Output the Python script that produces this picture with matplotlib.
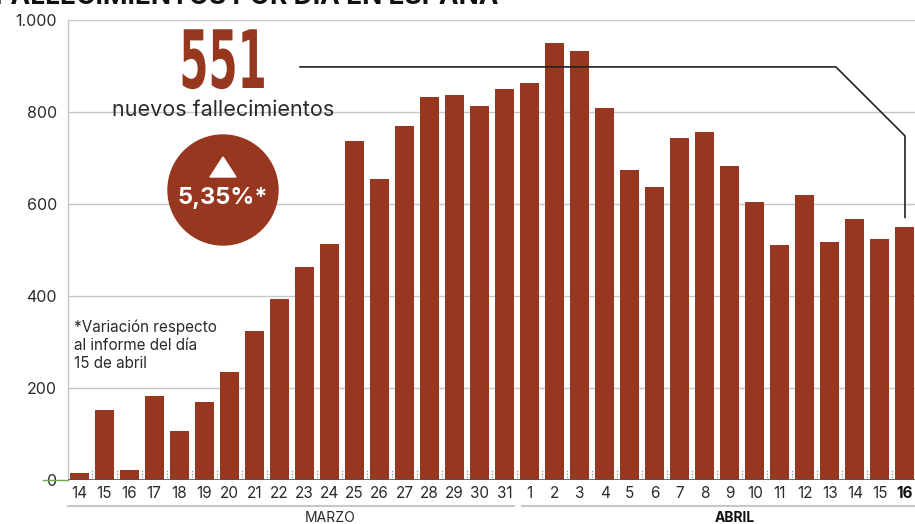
import matplotlib.pyplot as plt
import matplotlib.patches as mpatches
from matplotlib.patheffects import AbstractPathEffect
from matplotlib.transforms import Affine2D
import numpy as np

# data: daily deaths, 14 march - 16 april
dias = ['14', '15', '16', '17', '18', '19', '20', '21', '22', '23', '24', '25',
        '26', '27', '28', '29', '30', '31',
        '1', '2', '3', '4', '5', '6', '7', '8', '9', '10', '11', '12', '13',
        '14', '15', '16']
muertes = [15, 152, 21, 182, 107, 169, 235, 324, 394, 462, 514, 738,
           655, 769, 832, 838, 812, 849,
           864, 950, 932, 809, 674, 637, 743, 757, 683, 605, 510, 619, 517,
           567, 523, 551]
y_ticks = [0, 200, 400, 600, 800, 1000]
y_labels = ['0', '200', '400', '600', '800', '1.000']

rojo = '#97371f'
gris = '#c6c6cc'
texto = '#2a2a2a'

plt.rcParams['font.family'] = ['Inter', 'DejaVu Sans']


# squeeze glyphs horizontally (condensed look for the big number)
class Squeeze(AbstractPathEffect):
    def __init__(self, sx, cx):
        super().__init__()
        self.sx = sx
        self.cx = cx

    def draw_path(self, renderer, gc, tpath, affine, rgbFace=None):
        t = affine + Affine2D().translate(-self.cx, 0).scale(self.sx, 1).translate(self.cx, 0)
        renderer.draw_path(gc, tpath, t, rgbFace)


fig = plt.figure(figsize=(9.15, 5.24), dpi=100)
ax = fig.add_axes([68 / 915, 44 / 524, 847 / 915, 460 / 524])

x = np.arange(len(muertes))
ax.bar(x, muertes, width=0.76, color=rojo, zorder=3)

ax.set_xlim(-0.44, len(muertes) - 0.6)
ax.set_ylim(0, 1000)

# grid and axes
for v in y_ticks[1:]:
    ax.axhline(v, color=gris, lw=1, zorder=1)
ax.axhline(0, color='#555555', lw=1.2, zorder=4)
for s in ['top', 'right', 'bottom']:
    ax.spines[s].set_visible(False)
ax.spines['left'].set_color(gris)
ax.spines['left'].set_linewidth(1)
ax.set_yticks(y_ticks)
ax.set_yticklabels(y_labels, fontsize=11.5, color=texto)
ax.tick_params(axis='y', length=0, pad=8)
ax.set_xticks(x)
ax.set_xticklabels(dias, fontsize=11, color=texto)
ax.tick_params(axis='x', length=0, pad=4)
ax.get_xticklabels()[-1].set_fontweight('bold')
ax.get_xticklabels()[-1].set_color('#111111')

# little dotted separators between bars
for xi in x[:-1]:
    ax.plot([xi + 0.5, xi + 0.5], [0, 25], color='#888888', lw=0.8,
            ls=(0, (1, 1.5)), zorder=2)

# green stub left of zero
fig.add_artist(plt.Line2D([43 / 915, 68 / 915], [44 / 524, 44 / 524],
                          color='#6aa84f', lw=1))

# month groups
fig.add_artist(plt.Line2D([68 / 915, 514 / 915], [18 / 524, 18 / 524],
                          color=gris, lw=1.5))
fig.add_artist(plt.Line2D([522 / 915, 915 / 915], [18 / 524, 18 / 524],
                          color=gris, lw=1.5))
fig.text(330 / 915, 6 / 524, 'MARZO', fontsize=10, color=texto, ha='center',
         va='center')
fig.text(735 / 915, 6 / 524, 'ABRIL', fontsize=10, color='#111111',
         ha='center', va='center', fontweight='bold')

# title, cut by the top edge as in the source
fig.text(-0.005, 1.0 - 3.5 / 524, 'FALLECIMIENTOS POR DÍA EN ESPAÑA',
         fontsize=19, fontweight='bold', color='#111111', ha='left',
         va='baseline')

# highlight
fig.text(223 / 915, (524 - 66) / 524, str(muertes[-1]), fontsize=58,
         fontweight='bold', family='DejaVu Sans', color=rojo, ha='center',
         va='center', path_effects=[Squeeze(0.52, 223)])
fig.text(223 / 915, (524 - 110) / 524, 'nuevos fallecimientos', fontsize=15.5,
         color=texto, ha='center', va='center', zorder=5)
circ = mpatches.Circle((2.23, (524 - 190) / 100), 0.55, color=rojo,
                       transform=fig.dpi_scale_trans, zorder=5)
fig.add_artist(circ)
tri = mpatches.Polygon([[2.10, (524 - 177) / 100], [2.36, (524 - 177) / 100],
                        [2.23, (524 - 157) / 100]], closed=True,
                       color='white', transform=fig.dpi_scale_trans, zorder=6)
fig.add_artist(tri)
fig.text(223 / 915, (524 - 198) / 524, '5,35%*', fontsize=17,
         fontweight='bold', color='white', ha='center', va='center', zorder=7)

ax.text(-0.2, 348, '*Variación respecto\nal informe del día\n15 de abril',
        fontsize=11, color=texto, ha='left', va='top', linespacing=1.25,
        zorder=5)

# connector from the big number to the last bar
last = len(muertes) - 1
ax.plot([8.83, 30.24, last, last], [898, 898, 748, muertes[-1] + 20],
        color='#222222', lw=1.2, zorder=4)

fig.savefig('out.png', dpi=100)
